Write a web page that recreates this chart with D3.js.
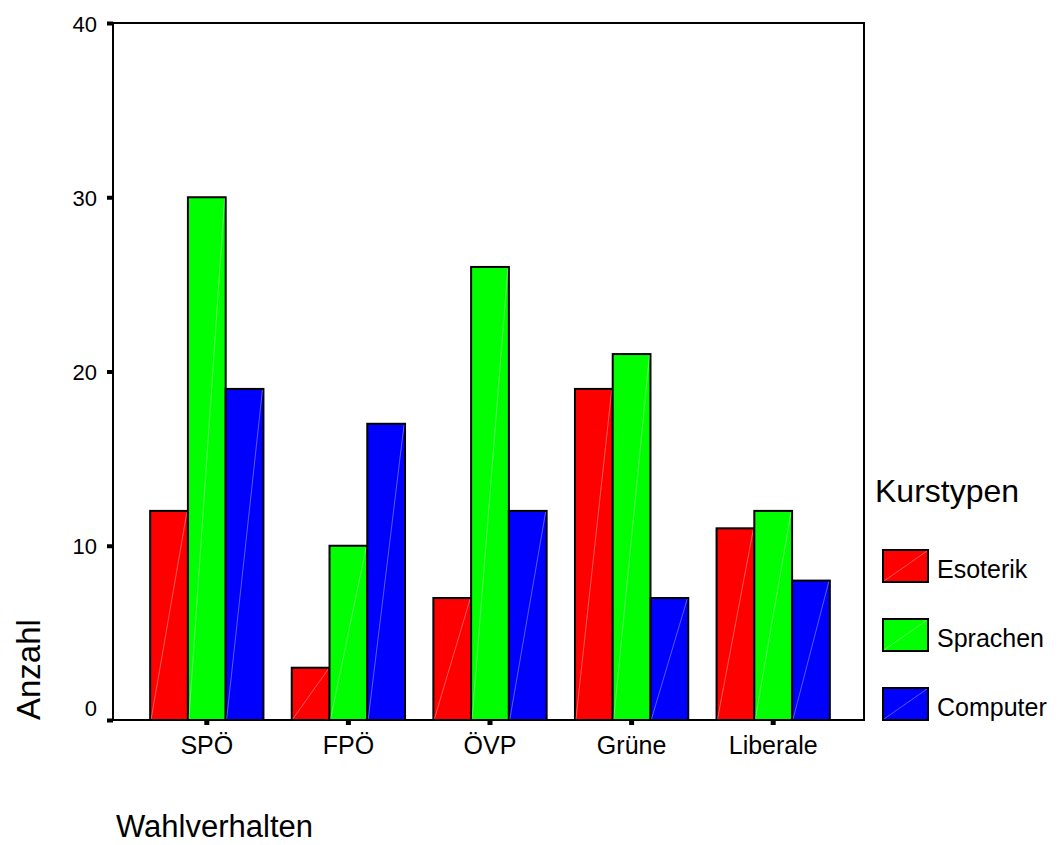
<!DOCTYPE html>
<html><head><meta charset="utf-8">
<script src="https://cdn.jsdelivr.net/npm/d3@7"></script>
<style>body{margin:0;background:#fff}svg{display:block}text{font-family:"Liberation Sans",Arial,sans-serif;fill:#000}</style>
</head><body>
<script>
const categories = ["SPÖ", "FPÖ", "ÖVP", "Grüne", "Liberale"];
const seriesNames = ["Esoterik", "Sprachen", "Computer"];
const esoterik = [12, 3, 7, 19, 11];
const sprachen = [30, 10, 26, 21, 12];
const computer = [19, 17, 12, 7, 8];
const seriesColors = ["#ff0000", "#00ff00", "#0000ff"];
const yTicks = [0, 10, 20, 30, 40];

(function () {
const values = [esoterik, sprachen, computer];
const W = 1059, H = 845;
const FF = '"Liberation Sans",Arial,sans-serif';
const svg = d3.select("body").append("svg").attr("width", W).attr("height", H);

const pL = 113, pR = 864, pT = 23, pB = 720;
const y = d3.scaleLinear().domain([0, 40]).range([pB, pT]);
const x0 = d3.scaleBand().domain(categories).range([136, 844]).paddingInner(0.2).paddingOuter(0.1);
const x1 = d3.scaleBand().domain(seriesNames).range([0, x0.bandwidth()]);

// frame
svg.append("rect").attr("x", pL).attr("y", pT).attr("width", pR - pL).attr("height", pB - pT)
  .attr("fill", "none").attr("stroke", "#000").attr("stroke-width", 2);

// bars
const g = svg.append("g");
categories.forEach((c, i) => {
  seriesNames.forEach((s, j) => {
    const bx = x0(c) + x1(s), bw = x1.bandwidth();
    const by = y(values[j][i]), bh = pB - by;
    g.append("rect").attr("x", bx).attr("y", by).attr("width", bw).attr("height", bh)
      .attr("fill", seriesColors[j]).attr("stroke", "#000").attr("stroke-width", 2);
    g.append("line").attr("x1", bx + 1).attr("y1", pB - 1).attr("x2", bx + bw - 1).attr("y2", by + 1)
      .attr("stroke", "#fff").attr("stroke-opacity", 0.35).attr("stroke-width", 1);
  });
});

// y axis
const yAxis = d3.axisLeft(y).tickValues(yTicks).tickSize(0).tickPadding(16);
const ya = svg.append("g").attr("transform", `translate(${pL},0)`).call(yAxis);
ya.select(".domain").remove();
ya.selectAll("text").style("font-size", "22px").style("font-family", FF)
  .attr("y", d => d === 0 ? -5 : 8).attr("dy", null);
ya.selectAll(".tick").append("rect").attr("x", -6).attr("y", -2).attr("width", 6).attr("height", 4).attr("fill", "#000");

// x axis
const xAxis = d3.axisBottom(x0).tickSize(0).tickPadding(0);
const xa = svg.append("g").attr("transform", `translate(0,${pB})`).call(xAxis);
xa.select(".domain").remove();
xa.selectAll("text").style("font-size", "25px").style("font-family", FF).attr("y", 34).attr("dy", null);
xa.selectAll(".tick").append("rect").attr("x", -2.5).attr("y", 0).attr("width", 5).attr("height", 5).attr("fill", "#000");

// axis titles
svg.append("text").attr("transform", "translate(40,720) rotate(-90)").attr("text-anchor", "start")
  .style("font-size", "33px").text("Anzahl");
svg.append("text").attr("x", 116).attr("y", 837).style("font-size", "31px").text("Wahlverhalten");

// legend
svg.append("text").attr("x", 875).attr("y", 502).style("font-size", "32px").text("Kurstypen");
const legY = [550, 619, 688];
seriesNames.forEach((s, j) => {
  const lg = svg.append("g").attr("transform", `translate(883,${legY[j]})`);
  lg.append("rect").attr("width", 45).attr("height", 32).attr("fill", seriesColors[j]).attr("stroke", "#000").attr("stroke-width", 2);
  lg.append("line").attr("x1", 1).attr("y1", 31).attr("x2", 44).attr("y2", 1).attr("stroke", "#fff").attr("stroke-opacity", 0.35);
  lg.append("text").attr("x", 54).attr("y", 28).style("font-size", "25px").text(s);
});
})();
</script>
</body></html>
